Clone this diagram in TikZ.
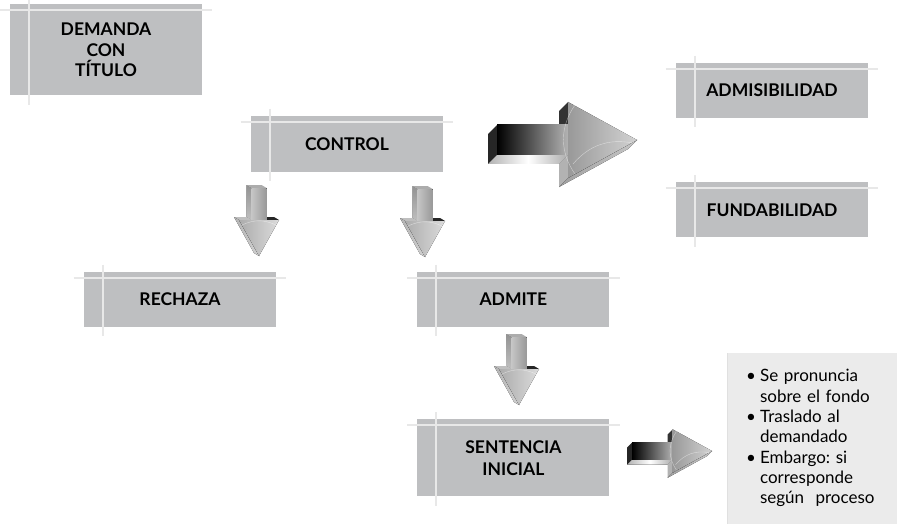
\documentclass[tikz,border=0pt]{standalone}
\usepackage{fontspec}
\setmainfont{Lato}
\usepackage[]{xcolor}
\usetikzlibrary{positioning}
\frenchspacing

\definecolor{boxgray}{RGB}{190,191,193}
\definecolor{guidegray}{RGB}{232,232,232}
\definecolor{notegray}{RGB}{235,235,235}

\tikzset{
  % glossy block arrow pointing right, tip at the origin
  pics/rightarrow/.style={code={
    \fill[black!85] (-140,-15) -- (-140,15) -- (-149,24) -- (-149,-6) -- cycle;
    \fill[left color=gray!60, right color=gray!65, middle color=white] (-140,15) -- (-69,15) -- (-78,24) -- (-149,24) -- cycle;
    \fill[black!80] (-69,-15) -- (-69,-38) -- (-78,-29) -- (-78,-6) -- cycle;
    \fill[gray!60] (-69,15) -- (-69,38) -- (-78,47) -- (-78,24) -- cycle;
    \fill[left color=gray!75, right color=gray!45] (-69,38) -- (0,0) -- (-9,9) -- (-78,47) -- cycle;
    \fill[left color=black, right color=gray!60] (-140,-15) rectangle (-69,15);
    \fill[left color=gray!80, right color=gray!35] (-69,-38) -- (0,0) -- (-69,38) -- cycle;
    \draw[white, opacity=.5, thin] (-62,-35) to[bend right=35] (-62,34);
    \draw[white, opacity=.5, thin] (-64,24) to[bend left=30] (-4,3);
  }},
  % glossy block arrow pointing down, tip at the origin
  pics/downarrow/.style={code={
    \fill[top color=gray!85, bottom color=gray!50] (-7.5,-68) -- (-7.5,-36) -- (-12.5,-39) -- (-12.5,-71) -- cycle;
    \fill[gray!65] (-7.5,-68) -- (7.5,-68) -- (2.5,-71) -- (-12.5,-71) -- cycle;
    \fill[gray!50] (-20,-36) -- (-7.5,-36) -- (-12.5,-39) -- (-25,-39) -- cycle;
    \fill[left color=gray!60, right color=gray!35] (-20,-36) -- (0,0) -- (-5,-3) -- (-25,-39) -- cycle;
    \fill[black!85] (7.5,-36) -- (20,-36) -- (15,-39) -- (2.5,-39) -- cycle;
    \fill[left color=gray!45, right color=gray!80] (-7.5,-68) rectangle (7.5,-36);
    \fill[left color=gray!65, right color=gray!28] (-20,-36) -- (20,-36) -- (0,0) -- cycle;
    \draw[white, opacity=.5, thin] (-17,-31) to[bend left=25] (17,-31);
  }}
}

\begin{document}
\begin{tikzpicture}[
            x=1pt, y=-1pt,
            stage/.style={rectangle, fill=boxgray, minimum width=192pt, minimum height=55pt, inner sep=0pt, align=center, font=\fontsize{17.5}{20.5}\selectfont\bfseries},
            guide/.style={draw=guidegray, line width=2pt},
            notes/.style={rectangle, fill=notegray, minimum width=170pt, minimum height=171pt, text width=132pt, inner xsep=19pt, inner ysep=0pt, anchor=north west, align=left, font=\fontsize{17}{20.3}\selectfont}
        ]
            \useasboundingbox[fill=white] (0,0) rectangle (897,524);

            \node[stage, minimum height=91pt] (demanda) at (106,50) {DEMANDA\\CON\\TÍTULO};
            \node[stage, minimum height=56pt] (control) at (347,144) {CONTROL};
            \node[stage] (admisibilidad) at (772,90.5) {ADMISIBILIDAD};
            \node[stage, below=64pt of admisibilidad] (fundabilidad) {FUNDABILIDAD};
            \node[stage] (rechaza) at (180,299.5) {RECHAZA};
            \node[stage, right=141pt of rechaza] (admite) {ADMITE};
            \node[stage, minimum height=77pt, below=92pt of admite, font=\fontsize{17.5}{22}\selectfont\bfseries] (sentencia) {SENTENCIA\\INICIAL};

            % crossing guide lines on every box
            \foreach \n in {demanda,control,admisibilidad,fundabilidad,rechaza,admite,sentencia} {
                \draw[guide] ([xshift=-10pt,yshift=-6pt]\n.north west) -- ([xshift=10pt,yshift=-6pt]\n.north east);
                \draw[guide] ([xshift=19pt,yshift=7pt]\n.north west) -- ([xshift=19pt,yshift=-9pt]\n.south west);
            }

            \node[notes] (notas) at (727,353) {%
                \begin{tabular}{@{}l@{\hspace{4pt}}l@{}}
                \textbullet & Se pronuncia\\
                            & sobre el fondo\\
                \textbullet & Traslado al\\
                            & demandado\\
                \textbullet & Embargo: si\\
                            & corresponde\\
                            & según\ \ proceso
                \end{tabular}};
            \draw[draw=black!12, line width=1pt] (notas.north west) -- (notas.south west);

            \pic at (637,140) {rightarrow};
            \pic at (259,256) {downarrow};
            \pic at (425,257) {downarrow};
            \pic at (519,405) {downarrow};
            \pic[scale=0.57] at (712,451) {rightarrow};
        \end{tikzpicture}
\end{document}
